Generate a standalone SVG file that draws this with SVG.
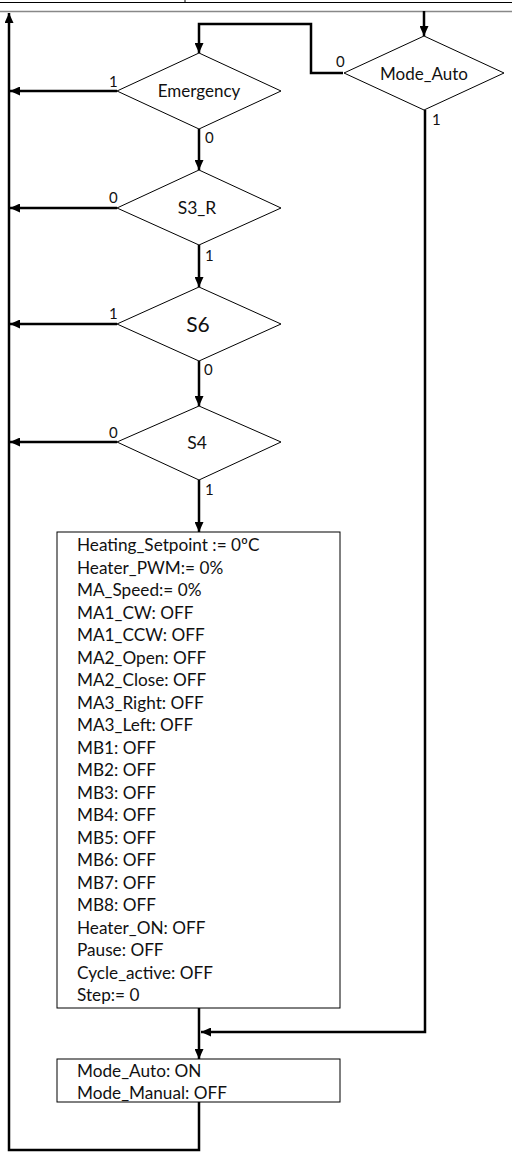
<svg xmlns="http://www.w3.org/2000/svg" width="512" height="1154" viewBox="0 0 512 1154">
<style>
.shape{fill:#fff;stroke:#000;stroke-width:1}
.box{fill:#fff;stroke:#000;stroke-width:1}
.conn{fill:none;stroke:#000;stroke-width:2.5}
.t{font-family:Lato,"Liberation Sans",sans-serif;fill:#111}
.lbl{font-family:Lato,"Liberation Sans",sans-serif;font-size:15px;fill:#111}
.body{font-family:Lato,"Liberation Sans",sans-serif;font-size:17.2px;fill:#111}
</style>
<defs>
<marker id="ah" markerUnits="userSpaceOnUse" markerWidth="11" markerHeight="9" refX="10" refY="4.5" orient="auto">
<path d="M0,0 L10,4.5 L0,9 z" fill="#000"/>
</marker>
</defs>
<rect width="512" height="1154" fill="#fff"/>
<g id="page-lines">
<line x1="0" y1="2.5" x2="512" y2="2.5" stroke="#000" stroke-width="1"/>
<line x1="185" y1="0" x2="185" y2="3" stroke="#000" stroke-width="1"/>
<line x1="0" y1="11.5" x2="512" y2="11.5" stroke="#888" stroke-width="1.5"/>
</g>
<g id="connectors">
<path class="conn" d="M424,11 V36" marker-end="url(#ah)"/>
<path class="conn" d="M343,73 H311 V24 H199 V53" marker-end="url(#ah)"/>
<path class="conn" d="M117,91 H10" marker-end="url(#ah)"/>
<path class="conn" d="M199,129 V170" marker-end="url(#ah)"/>
<path class="conn" d="M117,208 H10" marker-end="url(#ah)"/>
<path class="conn" d="M199,245 V287" marker-end="url(#ah)"/>
<path class="conn" d="M117,324 H10" marker-end="url(#ah)"/>
<path class="conn" d="M199,361 V406" marker-end="url(#ah)"/>
<path class="conn" d="M117,442 H10" marker-end="url(#ah)"/>
<path class="conn" d="M199,480 V532" marker-end="url(#ah)"/>
<path class="conn" d="M199,1008 V1059" marker-end="url(#ah)"/>
<path class="conn" d="M425,110 V1032 H201" marker-end="url(#ah)"/>
<path class="conn" d="M199,1102 V1150 H9 V13" marker-end="url(#ah)"/>
<text class="lbl" x="336" y="67">0</text>
<text class="lbl" x="432" y="125">1</text>
<text class="lbl" x="109" y="87">1</text>
<text class="lbl" x="205" y="143">0</text>
<text class="lbl" x="109" y="203">0</text>
<text class="lbl" x="205" y="261">1</text>
<text class="lbl" x="109" y="319">1</text>
<text class="lbl" x="204" y="375">0</text>
<text class="lbl" x="109" y="438">0</text>
<text class="lbl" x="205" y="495">1</text>
</g>
<g id="mode-auto">
<polygon class="shape" points="424,36 504,73 424,110 344,73"/>
<text class="t" x="424" y="80" font-size="17" text-anchor="middle">Mode_Auto</text>
</g>
<g id="emergency">
<polygon class="shape" points="199,53 281,91 199,129 117,91"/>
<text class="t" x="199" y="97" font-size="17" text-anchor="middle">Emergency</text>
</g>
<g id="s3r">
<polygon class="shape" points="199,170 281,208 199,245 117,208"/>
<text class="t" x="197" y="214" font-size="17.5" text-anchor="middle">S3_R</text>
</g>
<g id="s6">
<polygon class="shape" points="199,287 281,324 199,361 117,324"/>
<text class="t" x="198" y="332" font-size="21" text-anchor="middle">S6</text>
</g>
<g id="s4">
<polygon class="shape" points="199,406 281,442 199,480 117,442"/>
<text class="t" x="197" y="449" font-size="17.5" text-anchor="middle">S4</text>
</g>
<g id="reset-box">
<rect class="box" x="57" y="532" width="283" height="476"/>
<text class="body" x="77" y="551">Heating_Setpoint := 0ºC</text>
<text class="body" x="77" y="573.5">Heater_PWM:= 0%</text>
<text class="body" x="77" y="596">MA_Speed:= 0%</text>
<text class="body" x="77" y="618.5">MA1_CW: OFF</text>
<text class="body" x="77" y="641">MA1_CCW: OFF</text>
<text class="body" x="77" y="663.5">MA2_Open: OFF</text>
<text class="body" x="77" y="686">MA2_Close: OFF</text>
<text class="body" x="77" y="708.5">MA3_Right: OFF</text>
<text class="body" x="77" y="731">MA3_Left: OFF</text>
<text class="body" x="77" y="753.5">MB1: OFF</text>
<text class="body" x="77" y="776">MB2: OFF</text>
<text class="body" x="77" y="798.5">MB3: OFF</text>
<text class="body" x="77" y="821">MB4: OFF</text>
<text class="body" x="77" y="843.5">MB5: OFF</text>
<text class="body" x="77" y="866">MB6: OFF</text>
<text class="body" x="77" y="888.5">MB7: OFF</text>
<text class="body" x="77" y="911">MB8: OFF</text>
<text class="body" x="77" y="933.5">Heater_ON: OFF</text>
<text class="body" x="77" y="956">Pause: OFF</text>
<text class="body" x="77" y="978.5">Cycle_active: OFF</text>
<text class="body" x="77" y="1001">Step:= 0</text>
</g>
<g id="mode-box">
<rect class="box" x="57" y="1059" width="283" height="43"/>
<text class="body" x="77" y="1077">Mode_Auto: ON</text>
<text class="body" x="77" y="1099">Mode_Manual: OFF</text>
</g>
</svg>
